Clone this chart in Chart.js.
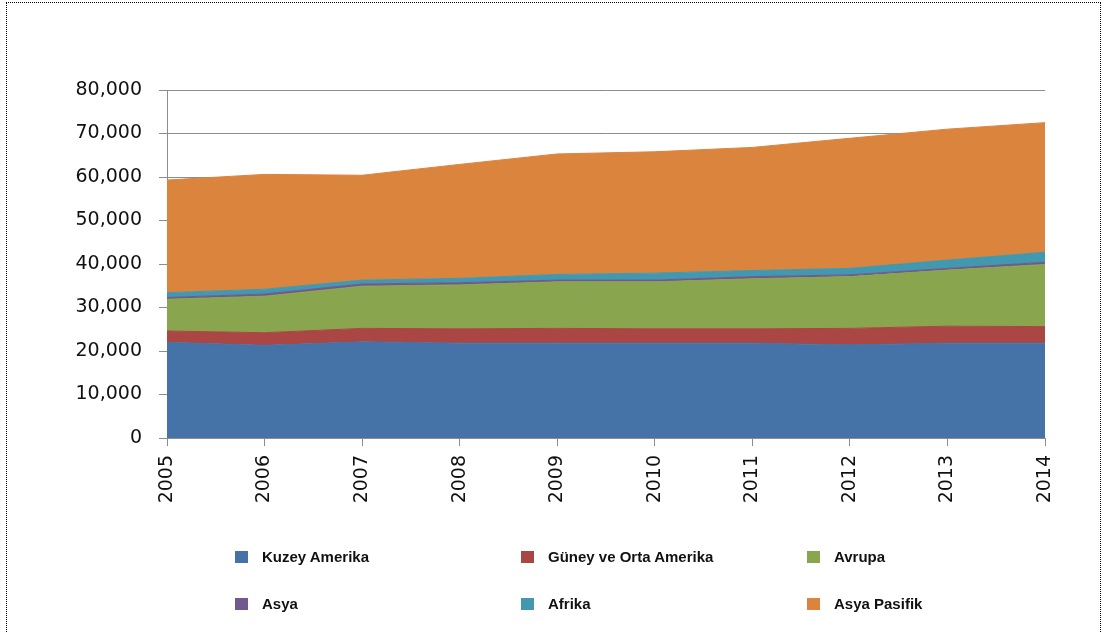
<!DOCTYPE html>
<html>
<head>
<meta charset="utf-8">
<script src="https://cdn.jsdelivr.net/npm/chart.js@4/dist/chart.umd.min.js"></script>
<style>
    html, body { margin: 0; padding: 0; background: #fff; }
    body { width: 1105px; height: 632px; position: relative; overflow: hidden; }
    #frame {
        position: absolute; left: 6px; top: 2px; width: 1095px; height: 700px;
        border: 1px dotted #000; box-sizing: border-box;
    }
    #chart { position: absolute; left: 0; top: 0; }
    .legend-item {
        position: absolute; display: flex; align-items: center;
        font: bold 15px "Liberation Sans", Arial, sans-serif; color: #111;
    }
    .legend-item span.box { display: inline-block; width: 13px; height: 12px; margin-right: 14px; }
</style>
</head>
<body>
<div id="frame"></div>
<canvas id="chart" width="1105" height="632"></canvas>
<div id="legend"></div>
<script>
'use strict';

// 年份
const years = ['2005', '2006', '2007', '2008', '2009', '2010', '2011', '2012', '2013', '2014'];

// 各区域数值 (堆叠)
const kuzeyAmerika = [22000, 21300, 22100, 21800, 21800, 21800, 21800, 21400, 21800, 21800];
const guneyOrtaAmerika = [2600, 2900, 3100, 3300, 3400, 3300, 3300, 3800, 3900, 3800];
const avrupa = [7300, 8400, 9700, 10100, 10700, 10800, 11500, 11900, 12900, 14300];
const asya = [400, 500, 500, 500, 400, 400, 500, 400, 400, 500];
const afrika = [1100, 1100, 900, 1000, 1300, 1600, 1400, 1500, 1900, 2300];
const asyaPasifik = [25900, 26400, 24100, 26200, 27700, 27900, 28300, 29900, 30100, 29800];

const seriesNames = ['Kuzey Amerika', 'Güney ve Orta Amerika', 'Avrupa', 'Asya', 'Afrika', 'Asya Pasifik'];
const seriesColors = ['#4572A7', '#AA4643', '#89A54E', '#71588F', '#4198AF', '#DB843D'];
const seriesData = [kuzeyAmerika, guneyOrtaAmerika, avrupa, asya, afrika, asyaPasifik];

// y 轴刻度
const yMin = 0;
const yMax = 80000;
const yStep = 10000;

const axisGray = '#8c8c8c';
const tickFont = { family: '"DejaVu Sans", sans-serif', size: 19 };

const datasets = seriesNames.map((name, i) => ({
    label: name,
    data: seriesData[i],
    borderColor: seriesColors[i],
    backgroundColor: seriesColors[i],
    borderWidth: 1,
    pointRadius: 0,
    tension: 0,
    fill: i === 0 ? 'origin' : '-1'
}));

new Chart(document.getElementById('chart'), {
    type: 'line',
    data: { labels: years, datasets: datasets },
    options: {
        responsive: false,
        animation: false,
        devicePixelRatio: 1,
        layout: { padding: { top: 90, right: 60, bottom: 104, left: 0 } },
        plugins: {
            legend: { display: false },
            tooltip: { enabled: false }
        },
        scales: {
            x: {
                offset: false,
                grid: { drawOnChartArea: false, color: axisGray, tickLength: 8 },
                border: { color: axisGray },
                ticks: {
                    color: '#111', font: tickFont, padding: 9,
                    autoSkip: false, minRotation: 90, maxRotation: 90
                },
                afterFit(scale) { scale.height = 90; }
            },
            y: {
                stacked: true,
                min: yMin,
                max: yMax,
                grid: { color: axisGray, tickLength: 8 },
                border: { color: axisGray },
                ticks: {
                    stepSize: yStep,
                    color: '#111', font: tickFont, padding: 17,
                    callback: v => v.toLocaleString('en-US')
                },
                afterFit(scale) { scale.width = 167; }
            }
        }
    }
});

// 图例 (两行三列)
const legendCols = [235, 521, 807];
const legendRows = [548, 595];
const legendEl = document.getElementById('legend');
seriesNames.forEach((name, i) => {
    const item = document.createElement('div');
    item.className = 'legend-item';
    item.style.left = legendCols[i % 3] + 'px';
    item.style.top = legendRows[Math.floor(i / 3)] + 'px';
    item.innerHTML = '<span class="box" style="background:' + seriesColors[i] + '"></span>' + name;
    legendEl.appendChild(item);
});
</script>
</body>
</html>
